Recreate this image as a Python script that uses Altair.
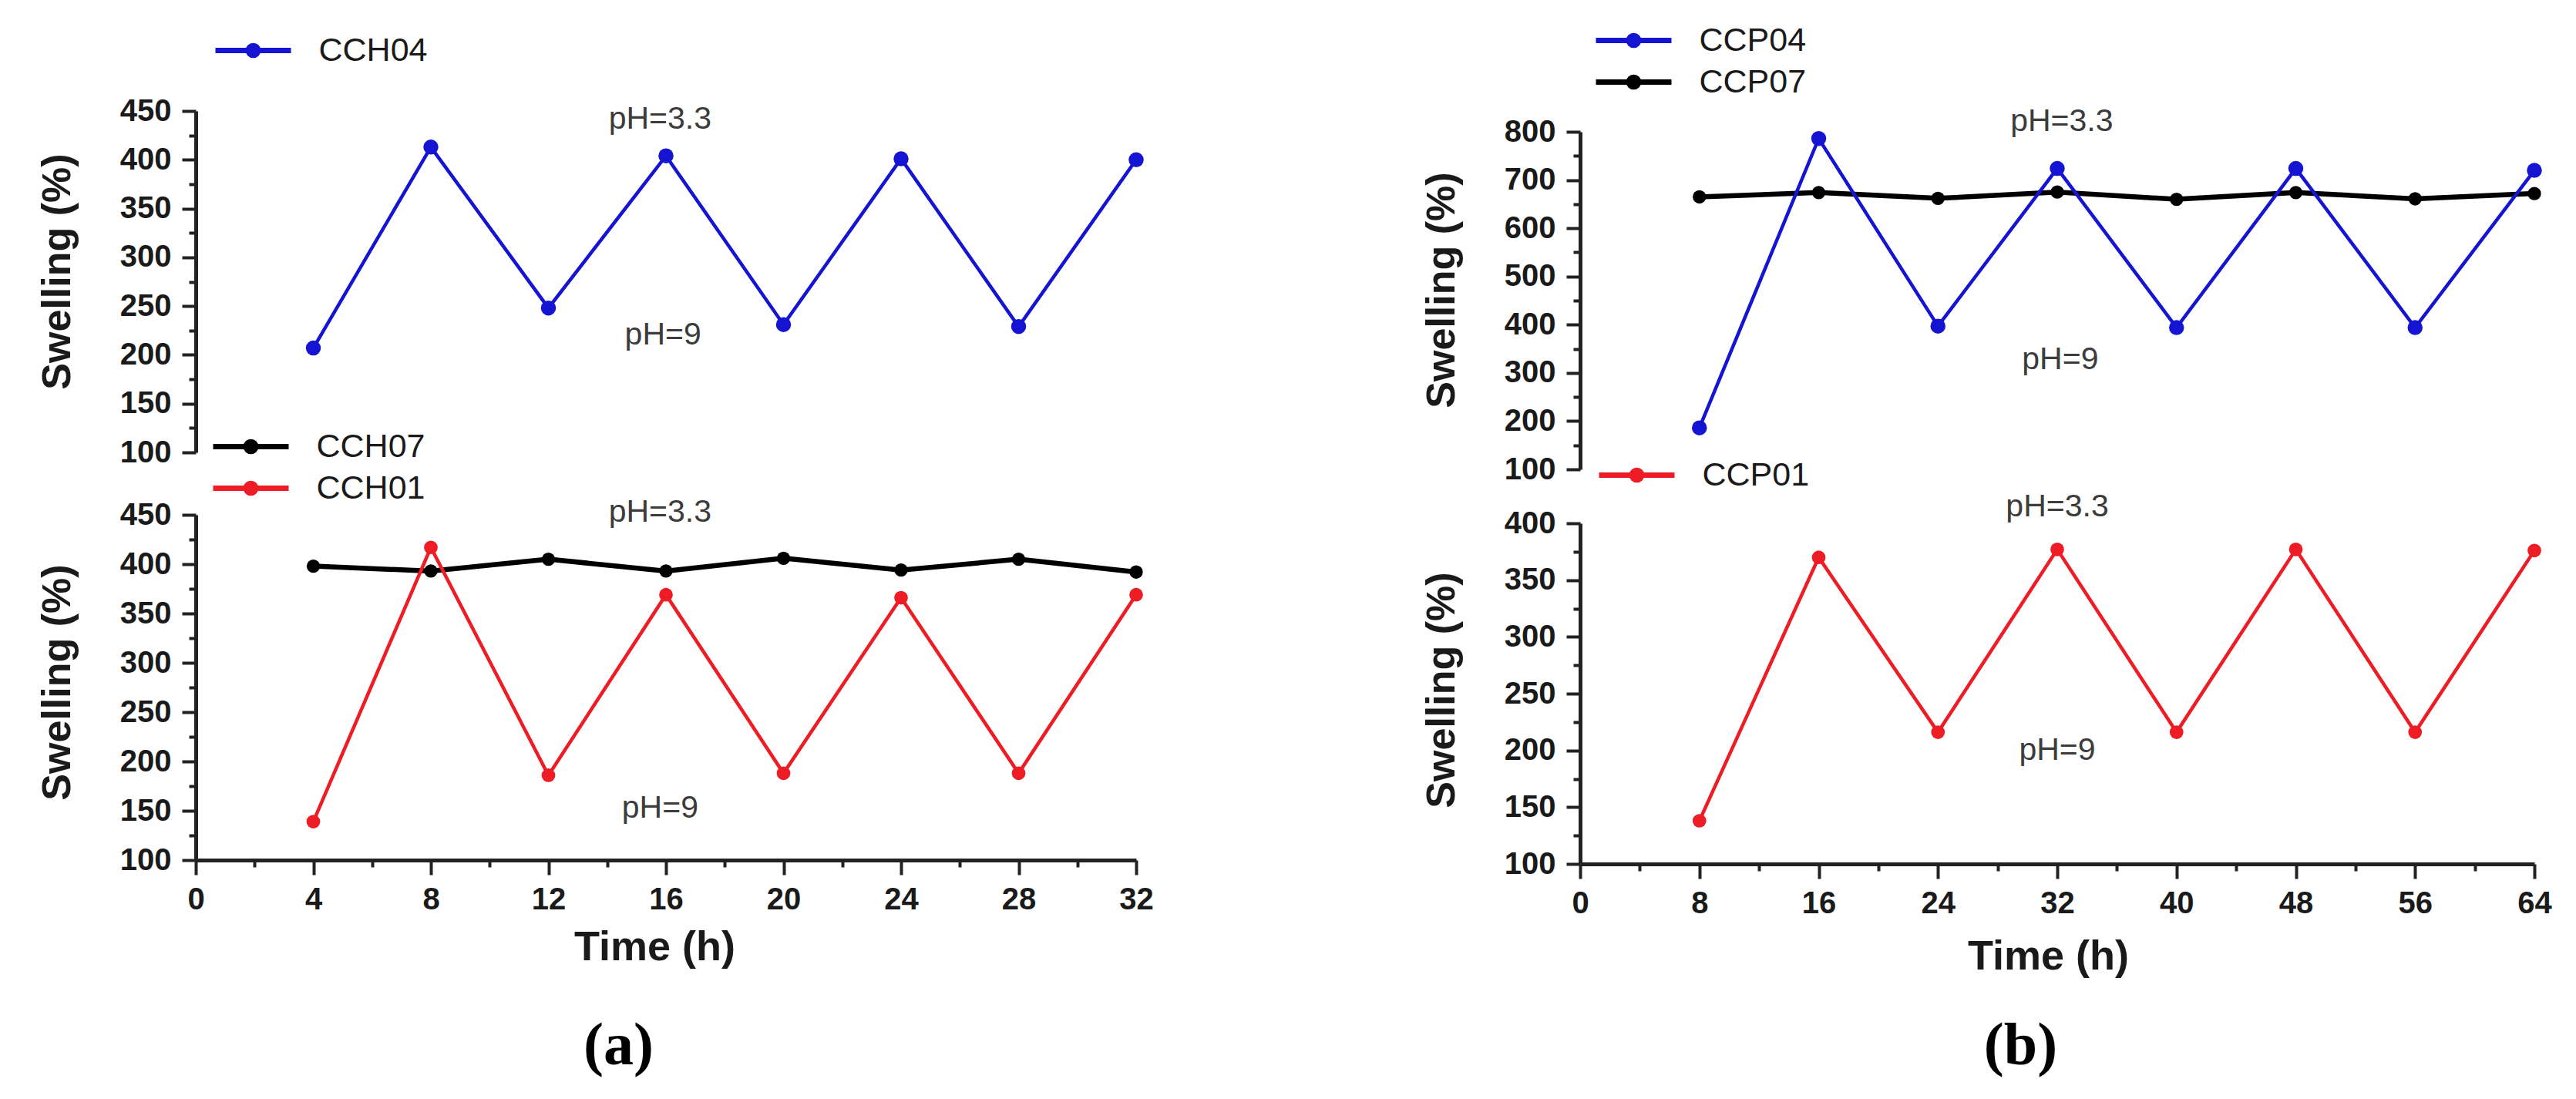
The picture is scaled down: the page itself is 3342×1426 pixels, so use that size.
import altair as alt
import pandas as pd

# ---------------- data ----------------
a_time = [4, 8, 12, 16, 20, 24, 28, 32]
CCH04 = [207, 413, 248, 404, 231, 401, 229, 400]
CCH07 = [398, 393, 405, 393, 406, 394, 405, 392]
CCH01 = [139, 417, 186, 369, 188, 366, 188, 369]

b_time = [8, 16, 24, 32, 40, 48, 56, 64]
CCP04 = [186, 786, 397, 724, 394, 724, 394, 720]
CCP07 = [665, 674, 662, 675, 660, 674, 661, 672]
CCP01 = [138, 370, 216, 377, 216, 377, 216, 376]

a_x_major = [0, 4, 8, 12, 16, 20, 24, 28, 32]
a_x_minor = [2, 6, 10, 14, 18, 22, 26, 30]
b_x_major = [0, 8, 16, 24, 32, 40, 48, 56, 64]
b_x_minor = [4, 12, 20, 28, 36, 44, 52, 60]
a_y_major = [100, 150, 200, 250, 300, 350, 400, 450]
a_y_minor = [125, 175, 225, 275, 325, 375, 425]
b_top_y_major = [100, 200, 300, 400, 500, 600, 700, 800]
b_top_y_minor = [150, 250, 350, 450, 550, 650, 750]
b_bot_y_major = [100, 150, 200, 250, 300, 350, 400]
b_bot_y_minor = [125, 175, 225, 275, 325, 375]

ph_labels = ["pH=3.3", "pH=9"]
a_top_ph_t = [15.8, 15.9]
a_top_ph_v = [441, 220]
a_bot_ph_t = [15.8, 15.8]
a_bot_ph_v = [452, 152]
b_top_ph_t = [32.3, 32.2]
b_top_ph_v = [821, 327]
b_bot_ph_t = [32.0, 32.0]
b_bot_ph_v = [414, 200]

BLUE, RED, BLACK = "#1414d2", "#ee1c24", "#000000"

FONT = "Liberation Sans"
SERIF = "Liberation Serif"
INK = "#1a1a1a"
W, H = 3326, 1410

# legend symbol: a line with a dot in the middle (unit = sqrt(size)/2)
SYMBOL = "M-2,0L2,0M-0.26,0A0.26,0.26,0,1,0,0.26,0A0.26,0.26,0,1,0,-0.26,0Z"


def frame(time, name, vals):
    return pd.DataFrame({"t": time, "v": vals, "series": [name] * len(time)})


def ann_frame(ts, vs):
    return pd.DataFrame({"t": ts, "v": vs, "label": ph_labels})


def panel(series, order, colors, xdom, xr, ydom, yr, ymaj, ymin,
          y_axis_x, y_title_y, legend_x, legend_y, ann,
          xmaj=None, xmin=None, x_axis_y=None, tt_x=None, tt_y=None,
          fig=None, fig_x=None, fig_y=None):
    """series: list of (dataframe, stroke width, point size) in drawing order."""
    xs = alt.Scale(domain=xdom, range=xr, nice=False, zero=False)
    ys = alt.Scale(domain=ydom, range=yr, nice=False, zero=False)
    leg = alt.Legend(orient="none", legendX=legend_x, legendY=legend_y, title=None,
                     labelFont=FONT, labelFontSize=43, labelColor=INK, labelLimit=400,
                     symbolType=SYMBOL, symbolSize=2401, symbolStrokeWidth=7,
                     symbolOpacity=1, labelOffset=57, rowPadding=4, padding=0)
    color = alt.Color("series:N", scale=alt.Scale(domain=order, range=colors), legend=leg)

    y_major = alt.Axis(orient="left", offset=-y_axis_x, values=ymaj, grid=False,
                       tickSize=18, tickWidth=4, tickColor="#222", domainColor="#222",
                       domainWidth=5, labelFont=FONT, labelFontSize=40, labelFontWeight="bold",
                       labelColor=INK, labelPadding=14, labelFlush=False, labelOverlap=False,
                       title="Swelling (%)", titleFont=FONT, titleFontSize=52,
                       titleFontWeight="bold", titleColor=INK, titleX=-180, titleY=y_title_y,
                       titleBaseline="middle", titleAlign="center")
    y_minor = alt.Axis(orient="left", offset=-y_axis_x, values=ymin, grid=False,
                       tickSize=9, tickWidth=4, tickColor="#222", domain=False,
                       labels=False, title=None)
    if xmaj is not None:
        off = x_axis_y - H
        x_major = alt.Axis(orient="bottom", offset=off, values=xmaj, grid=False,
                           tickSize=19, tickWidth=4, tickColor="#222", domainColor="#222",
                           domainWidth=5, labelFont=FONT, labelFontSize=40,
                           labelFontWeight="bold", labelColor=INK, labelPadding=12,
                           labelFlush=False, labelOverlap=False,
                           title="Time (h)", titleFont=FONT, titleFontSize=54,
                           titleFontWeight="bold", titleColor=INK, titleX=tt_x, titleY=tt_y,
                           titleBaseline="alphabetic", titleAlign="center")
        x_minor = alt.Axis(orient="bottom", offset=off, values=xmin, grid=False,
                           tickSize=9, tickWidth=4, tickColor="#222", domain=False,
                           labels=False, title=fig, titleFont=SERIF, titleFontSize=78,
                           titleFontWeight="bold", titleColor="#000", titleX=fig_x,
                           titleY=fig_y, titleBaseline="alphabetic", titleAlign="center")
    else:
        x_major = None
        x_minor = None

    layers = []
    for i, (df, sw, _) in enumerate(series):
        layers.append(alt.Chart(df).mark_line(strokeWidth=sw).encode(
            x=alt.X("t:Q", scale=xs, axis=x_major if i == 0 else None),
            y=alt.Y("v:Q", scale=ys, axis=y_major if i == 0 else None),
            color=color,
        ))
    for i, (df, _, sz) in enumerate(series):
        layers.append(alt.Chart(df).mark_point(filled=True, opacity=1, size=sz).encode(
            x=alt.X("t:Q", scale=xs, axis=x_minor if i == 0 else None),
            y=alt.Y("v:Q", scale=ys, axis=y_minor if i == 0 else None),
            color=color,
        ))
    layers.append(alt.Chart(ann).mark_text(font=FONT, fontSize=41, color="#3c3c3c",
                                           align="center", baseline="middle").encode(
        x=alt.X("t:Q", scale=xs, axis=None),
        y=alt.Y("v:Q", scale=ys, axis=None),
        text="label:N",
    ))
    return alt.layer(*layers).resolve_axis(x="independent", y="independent")


XA = [246, 1466]
XB = [2042, 3280]

p1 = panel([(frame(a_time, "CCH04", CCH04), 4.5, 380)], ["CCH04"], [BLUE],
           [0, 32], XA, [100, 450], [579, 136], a_y_major, a_y_minor, 246, 344,
           292.5, 29.5, ann_frame(a_top_ph_t, a_top_ph_v))
p2 = panel([(frame(a_time, "CCH07", CCH07), 6.5, 300),
            (frame(a_time, "CCH01", CCH01), 4.5, 314)],
           ["CCH07", "CCH01"], [BLACK, RED],
           [0, 32], XA, [100, 450], [1108, 660], a_y_major, a_y_minor, 246, 877,
           289.5, 543.5, ann_frame(a_bot_ph_t, a_bot_ph_v),
           xmaj=a_x_major, xmin=a_x_minor, x_axis_y=1108, tt_x=841, tt_y=129,
           fig="(a)", fig_x=794, fig_y=264)
p3 = panel([(frame(b_time, "CCP07", CCP07), 6.5, 300),
            (frame(b_time, "CCP04", CCP04), 4.5, 380)],
           ["CCP04", "CCP07"], [BLUE, BLACK],
           [0, 64], XB, [100, 800], [601, 163], b_top_y_major, b_top_y_minor, 2042, 368,
           2083.5, 16.5, ann_frame(b_top_ph_t, b_top_ph_v))
p4 = panel([(frame(b_time, "CCP01", CCP01), 4.5, 314)], ["CCP01"], [RED],
           [0, 64], XB, [100, 400], [1113, 671], b_bot_y_major, b_bot_y_minor, 2042, 887,
           2087.5, 580.5, ann_frame(b_bot_ph_t, b_bot_ph_v),
           xmaj=b_x_major, xmin=b_x_minor, x_axis_y=1113, tt_x=2649, tt_y=136,
           fig="(b)", fig_x=2613, fig_y=259)

chart = alt.layer(p1, p2, p3, p4).resolve_scale(
    x="independent", y="independent", color="independent",
).resolve_axis(x="independent", y="independent").resolve_legend(
    color="independent",
).properties(
    width=W, height=H, padding=0,
    autosize=alt.AutoSizeParams(type="none"),
    background="white",
).configure_view(stroke=None)

chart.save("out.html", embed_options={"renderer": "svg", "actions": False})
